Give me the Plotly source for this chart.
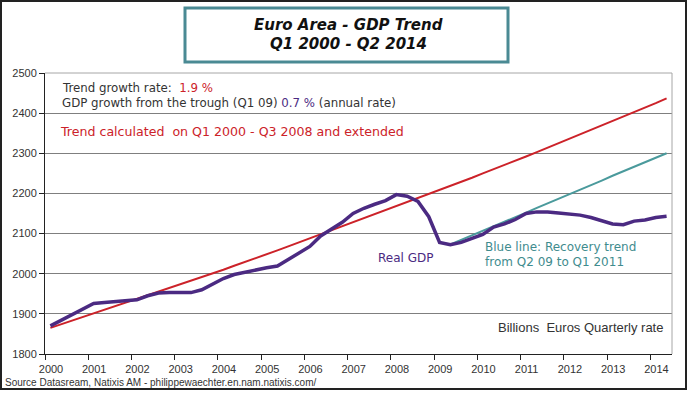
import plotly.graph_objects as go

# ---- data (billions EUR, quarterly, Q1 2000 .. Q2 2014) ----
years = [str(y) for y in range(2000, 2015)]
quarters = list(range(58))  # quarter index, 0 = Q1 2000

real_gdp = [1870, 1884, 1898, 1910, 1926, 1928, 1930, 1932, 1935, 1945,
            1952, 1953, 1953, 1953, 1960, 1975, 1988, 1998, 2004, 2010,
            2015, 2019, 2035, 2050, 2068, 2094, 2110, 2128, 2150, 2163,
            2173, 2182, 2197, 2193, 2180, 2142, 2078, 2072, 2078, 2088,
            2098, 2116, 2124, 2135, 2150, 2154, 2154, 2151, 2148, 2146,
            2140, 2131, 2124, 2122, 2131, 2134, 2140, 2143]

trend = [1865, 1874, 1883, 1891, 1900, 1909, 1918, 1927, 1936, 1945,
         1955, 1964, 1973, 1982, 1992, 2001, 2010, 2020, 2029, 2039,
         2048, 2058, 2068, 2078, 2087, 2097, 2107, 2117, 2127, 2137,
         2147, 2157, 2167, 2177, 2188, 2198, 2208, 2218, 2229, 2239,
         2250, 2260, 2271, 2282, 2292, 2303, 2314, 2325, 2336, 2347,
         2358, 2369, 2380, 2391, 2403, 2414, 2425, 2437]

recovery_start = 37  # Q2 2009
recovery = [2073, 2084, 2095, 2107, 2118, 2130, 2141, 2152, 2164, 2175,
            2187, 2198, 2209, 2221, 2232, 2244, 2255, 2266, 2278, 2289, 2300]

y_ticks = [1800, 1900, 2000, 2100, 2200, 2300, 2400, 2500]

# ---- layout helpers (pixel -> paper) ----
W, H = 690, 393
L, R, T, B = 45, 672, 73, 354
def px(x):
    return (x - L) / (R - L)
def py(y):
    return (B - y) / (B - T)

PURPLE = "#4b2a82"
RED = "#cc2229"
TEAL = "#4a9a9c"
TEALTXT = "#3f8c8e"
TXT = "#333333"
VERD = "DejaVu Sans, Verdana, sans-serif"
ARIAL = "Liberation Sans, Arial, sans-serif"

fig = go.Figure()
fig.add_trace(go.Scatter(x=quarters[recovery_start:recovery_start + len(recovery)], y=recovery,
                         mode="lines", line=dict(color=TEAL, width=2), hoverinfo="skip"))
fig.add_trace(go.Scatter(x=quarters, y=trend, mode="lines",
                         line=dict(color=RED, width=2), hoverinfo="skip"))
fig.add_trace(go.Scatter(x=quarters, y=real_gdp, mode="lines",
                         line=dict(color=PURPLE, width=3.5), hoverinfo="skip"))

shapes = [
    # white box behind the top-left text (hides 2400 gridline)
    dict(type="rect", xref="paper", yref="paper", x0=px(58), x1=px(417), y0=py(117), y1=py(76),
         fillcolor="white", line=dict(width=0), layer="below"),
    # plot border top & right
    dict(type="line", xref="paper", yref="paper", x0=0, x1=1, y0=1, y1=1,
         line=dict(color="#a6a6a6", width=1), layer="above"),
    dict(type="line", xref="paper", yref="paper", x0=1, x1=1, y0=0, y1=1,
         line=dict(color="#a6a6a6", width=1), layer="above"),
    # title box
    dict(type="rect", xref="paper", yref="paper", x0=px(185), x1=px(508), y0=py(62), y1=py(8),
         fillcolor="white", line=dict(color="#4a8a94", width=3), layer="above"),
    # outer frame
    dict(type="rect", xref="paper", yref="paper", x0=px(1), x1=px(686), y0=py(389), y1=py(1),
         line=dict(color="#222222", width=2), layer="above"),
]

nb = "\u00a0"
annotations = [
    dict(text="<b><i>Euro Area - GDP Trend</i></b>", x=px(348), y=py(25), font=dict(size=15, color="#111", family=VERD),
         xanchor="center"),
    dict(text="<b><i>Q1 2000 - Q2 2014</i></b>", x=px(348), y=py(44), font=dict(size=15, color="#111", family=VERD),
         xanchor="center"),
    dict(text=f"Trend growth rate:{nb}{nb}<span style='color:{RED}'>1.9 %</span>", x=px(60), y=py(88),
         font=dict(size=11.8, color=TXT, family=VERD), xanchor="left"),
    dict(text=f"GDP growth from the trough{nb}(Q1 09) <span style='color:{PURPLE}'>0.7 %</span> (annual rate)",
         x=px(60), y=py(103), font=dict(size=11.8, color=TXT, family=VERD), xanchor="left"),
    dict(text=f"Trend calculated{nb}{nb}on Q1 2000 - Q3 2008 and extended", x=px(58), y=py(131),
         font=dict(size=12.6, color=RED, family=VERD), xanchor="left"),
    dict(text="Real GDP", x=px(376), y=py(258), font=dict(size=12, color=PURPLE, family=VERD), xanchor="left"),
    dict(text="Blue line: Recovery trend", x=px(483), y=py(247),
         font=dict(size=12, color=TEALTXT, family=VERD), xanchor="left"),
    dict(text="from Q2 09 to Q1 2011", x=px(483), y=py(262),
         font=dict(size=12, color=TEALTXT, family=VERD), xanchor="left"),
    dict(text=f"Billions{nb}{nb}Euros Quarterly rate", x=px(665), y=py(327),
         font=dict(size=13, color=TXT, family=ARIAL), xanchor="right"),
    dict(text="Source Datasream, Natixis AM - philippewaechter.en.nam.natixis.com/", x=px(3), y=py(382),
         font=dict(size=10, color=TXT, family=ARIAL), xanchor="left"),
]
for a in annotations:
    a.update(xref="paper", yref="paper", yanchor="middle", showarrow=False)

fig.update_layout(
    width=W, height=H,
    margin=dict(l=L, r=W - R, t=T, b=H - B, pad=0),
    paper_bgcolor="white", plot_bgcolor="white",
    showlegend=False,
    shapes=shapes, annotations=annotations,
    xaxis=dict(range=[-0.5, 57.5], tickmode="array",
               tickvals=[-0.5 + 4 * i for i in range(len(years))], ticktext=years,
               ticks="outside", ticklen=5, tickcolor="#222", ticklabelshift=6,
               showgrid=False, showline=True, linecolor="#222", linewidth=1,
               tickfont=dict(size=11, color=TXT, family=ARIAL), zeroline=False, fixedrange=True),
    yaxis=dict(range=[1800, 2500], tickmode="array", tickvals=y_ticks,
               ticktext=[str(v) for v in y_ticks],
               ticks="outside", ticklen=5, tickcolor="#222",
               showgrid=True, gridcolor="#7f7f7f", gridwidth=1,
               showline=True, linecolor="#222", linewidth=1,
               tickfont=dict(size=11, color=TXT, family=ARIAL), zeroline=False, fixedrange=True),
)

fig.write_html("out.html", config={"displayModeBar": False},
               post_script="document.body.style.margin='0';document.body.style.overflow='hidden';")
